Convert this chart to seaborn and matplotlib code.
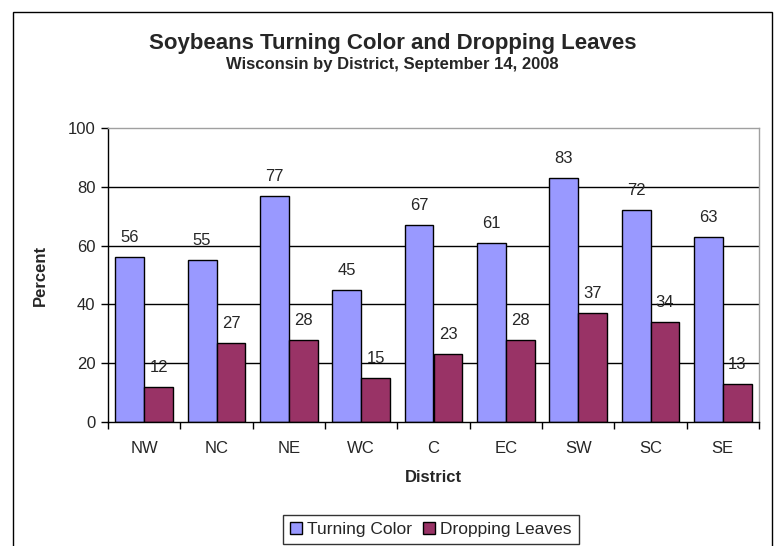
import matplotlib
matplotlib.use("Agg")
import matplotlib.pyplot as plt
from matplotlib.patches import Rectangle, Patch
import seaborn as sns
import pandas as pd
import numpy as np

districts = ["NW", "NC", "NE", "WC", "C", "EC", "SW", "SC", "SE"]
turning_color = [56, 55, 77, 45, 67, 61, 83, 72, 63]
dropping_leaves = [12, 27, 28, 15, 23, 28, 37, 34, 13]
series_names = ["Turning Color", "Dropping Leaves"]
colors = ["#9999FF", "#993366"]
y_ticks = [0, 20, 40, 60, 80, 100]

df = pd.DataFrame({
    "District": districts * 2,
    "Percent": turning_color + dropping_leaves,
    "Series": [series_names[0]] * len(districts) + [series_names[1]] * len(districts),
})

sns.set_theme(style="white")
plt.rcParams["font.family"] = ["Liberation Sans", "DejaVu Sans"]

W, H = 777, 546
fig = plt.figure(figsize=(W / 100, H / 100), dpi=100)
L, R, T, B = 108, 759, 128, 422
ax = fig.add_axes([L / W, 1 - B / H, (R - L) / W, (B - T) / H])

sns.barplot(data=df, x="District", y="Percent", hue="Series", order=districts,
            hue_order=series_names, palette=colors, edgecolor="black",
            linewidth=1, width=0.8, saturation=1, ax=ax, legend=False)

ax.set_xlim(-0.5, len(districts) - 0.5)
ax.set_ylim(0, 100)
ax.set_yticks(y_ticks)
ax.set_yticklabels([str(v) for v in y_ticks], fontsize=12)
for v in y_ticks[1:-1]:
    ax.axhline(v, color="black", lw=1, zorder=0)

ax.set_xticks(range(len(districts)))
ax.set_xticklabels(districts, fontsize=12)
ax.set_xticks(np.arange(-0.5, len(districts), 1), minor=True)
ax.tick_params(axis="x", which="major", length=0, pad=14)
ax.tick_params(axis="x", which="minor", length=5, width=1, color="black", direction="out", bottom=True)
ax.tick_params(axis="y", length=5, width=1, color="black", direction="out", left=True, pad=4)

for s in ["left", "bottom"]:
    ax.spines[s].set_color("black")
    ax.spines[s].set_linewidth(1)
for s in ["top", "right"]:
    ax.spines[s].set_visible(True)
    ax.spines[s].set_color("#A0A0A0")
    ax.spines[s].set_linewidth(1)

for cont in ax.containers:
    for bar in cont:
        h = bar.get_height()
        ax.annotate(f"{int(round(h))}", (bar.get_x() + bar.get_width() / 2, h),
                    xytext=(0, 14), textcoords="offset points",
                    ha="center", va="center", fontsize=12)

ax.set_ylabel("Percent", fontsize=12, fontweight="bold", labelpad=14)
ax.set_xlabel("District", fontsize=12, fontweight="bold", labelpad=10)

cx = 0.5 * (13 + 772) / W
fig.text(cx, 1 - 44 / H, "Soybeans Turning Color and Dropping Leaves",
         ha="center", va="center", fontsize=16, fontweight="bold")
fig.text(cx, 1 - 64 / H, "Wisconsin by District, September 14, 2008",
         ha="center", va="center", fontsize=12, fontweight="bold")

fig.patches.append(Rectangle((13 / W, -0.05), (772 - 13) / W, 1.05 - 12 / H,
                             transform=fig.transFigure, fill=False, edgecolor="black",
                             lw=1, clip_on=False))

handles = [Patch(facecolor=c, edgecolor="black", lw=1) for c in colors]
leg = fig.legend(handles, series_names, loc="upper left",
                 bbox_to_anchor=(283 / W, 1 - 515 / H), ncol=2, frameon=True,
                 fancybox=False, edgecolor="black", fontsize=12.5,
                 handlelength=0.7, handleheight=0.7, handletextpad=0.3,
                 columnspacing=0.6, borderpad=0.4, borderaxespad=0)
leg.get_frame().set_linewidth(1)

fig.savefig("out.png", dpi=100)
